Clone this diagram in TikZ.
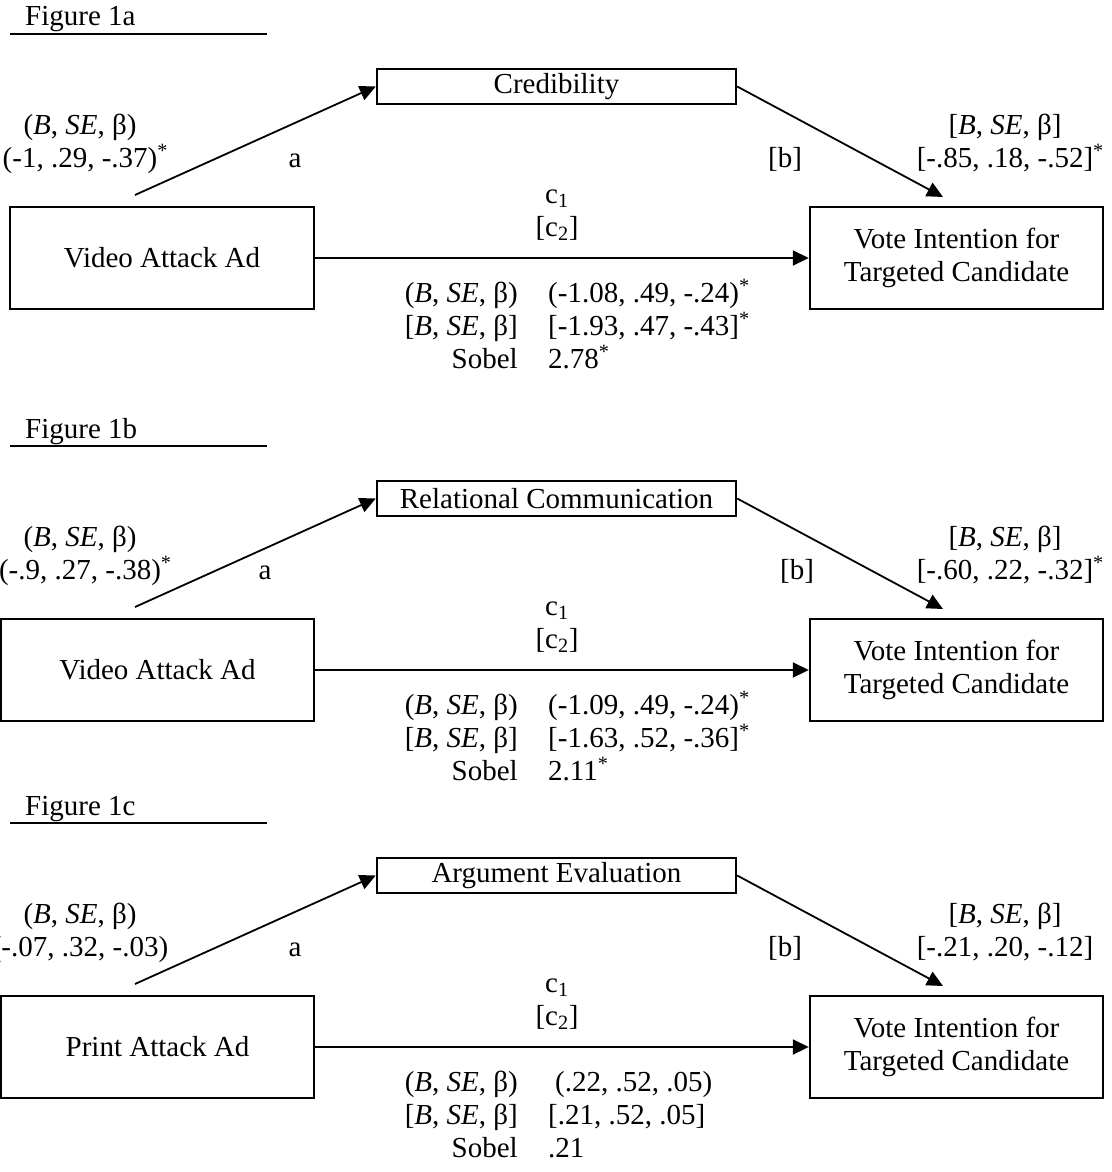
\documentclass[tikz,border=0pt]{standalone}
\usepackage{fontspec}
\setmainfont{Liberation Serif}
\usetikzlibrary{arrows.meta}
\newcommand{\sig}{\rlap{\textsuperscript{*}}}

\begin{document}
\begin{tikzpicture}[x=1pt, y=-1pt, >={Triangle[length=16pt,width=15pt]},
    every node/.style={font=\fontsize{29}{33.5}\selectfont, inner sep=0pt},
    varbox/.style={draw, line width=2.4pt, align=center},
    link/.style={->, line width=1.8pt},
    rule/.style={line width=1.4pt}]

    % --- 1. 画像の範囲 ---
    \useasboundingbox (0,0) rectangle (1111,1172);

    % --- 2. 三つのパネル (1a, 1b, 1c) ---
    \foreach \oy/\fl/\ivl/\iv/\med/\ax/\bx/\lval/\rval/\cone/\ctwo/\sob in {
        0/a/10/{Video Attack Ad}/{Credibility}/295/785/{(-1, .29, -.37)\sig}/{[-.85, .18, -.52]\sig}/{(-1.08, .49, -.24)\sig}/{[-1.93, .47, -.43]\sig}/{2.78\sig},
        412/b/1/{Video Attack Ad}/{Relational Communication}/265/797/{(-.9, .27, -.38)\sig}/{[-.60, .22, -.32]\sig}/{(-1.09, .49, -.24)\sig}/{[-1.63, .52, -.36]\sig}/{2.11\sig},
        789/c/1/{Print Attack Ad}/{Argument Evaluation}/295/785/{(-.07, .32, -.03)}/{[-.21, .20, -.12]}/{\hspace{7pt}(.22, .52, .05)}/{[.21, .52, .05]}/{.21}} {
        \pgfmathsetmacro{\ivw}{314-\ivl}

        % 見出しと下線
        \node (fig\fl) at (25, 26+\oy) [anchor=base west] {Figure 1\fl};
        \draw[rule] (10, 34+\oy) -- (267, 34+\oy);

        % 変数の箱
        \node[varbox, minimum width=\ivw pt, minimum height=102pt] (iv\fl) at ({(\ivl+314)/2}, 258+\oy) {\iv};
        \node[varbox, minimum width=359pt, minimum height=35pt] (med\fl) at (556.5, 86.5+\oy) {\med};
        \node[varbox, minimum width=293pt, minimum height=102pt] (dv\fl) at (956.5, 258+\oy) {Vote Intention for\\Targeted Candidate};

        % 経路 a, b, c
        \coordinate (as\fl) at (135, 195+\oy);
        \coordinate (be\fl) at (943, 197+\oy);
        \draw[link] (as\fl) -- (med\fl.west);
        \draw[link] (med\fl.east) -- (be\fl);
        \draw[link] (iv\fl) -- (dv\fl);

        % 係数のラベル
        \node (lb\fl) at (80, 134+\oy) [anchor=base] {(\textit{B}, \textit{SE}, β)};
        \node (lv\fl) at (80, 167+\oy) [anchor=base] {\lval};
        \node (rb\fl) at (1005, 134+\oy) [anchor=base] {[\textit{B}, \textit{SE}, β]};
        \node (rv\fl) at (1005, 167+\oy) [anchor=base] {\rval};
        \node (pa\fl) at (\ax, 167+\oy) [anchor=base] {a};
        \node (pb\fl) at (\bx, 167+\oy) [anchor=base] {[b]};
        \node (ca\fl) at (557, 203+\oy) [anchor=base] {c\textsubscript{1}};
        \node (cb\fl) at (557, 236+\oy) [anchor=base] {[c\textsubscript{2}]};

        % 直接効果と Sobel
        \node (sa\fl) at (518, 302+\oy) [anchor=base east] {(\textit{B}, \textit{SE}, β)};
        \node (sb\fl) at (518, 335+\oy) [anchor=base east] {[\textit{B}, \textit{SE}, β]};
        \node (sc\fl) at (518, 368+\oy) [anchor=base east] {Sobel};
        \node (ta\fl) at (548, 302+\oy) [anchor=base west] {\cone};
        \node (tb\fl) at (548, 335+\oy) [anchor=base west] {\ctwo};
        \node (tc\fl) at (548, 368+\oy) [anchor=base west] {\sob};
    }

\end{tikzpicture}
\end{document}
